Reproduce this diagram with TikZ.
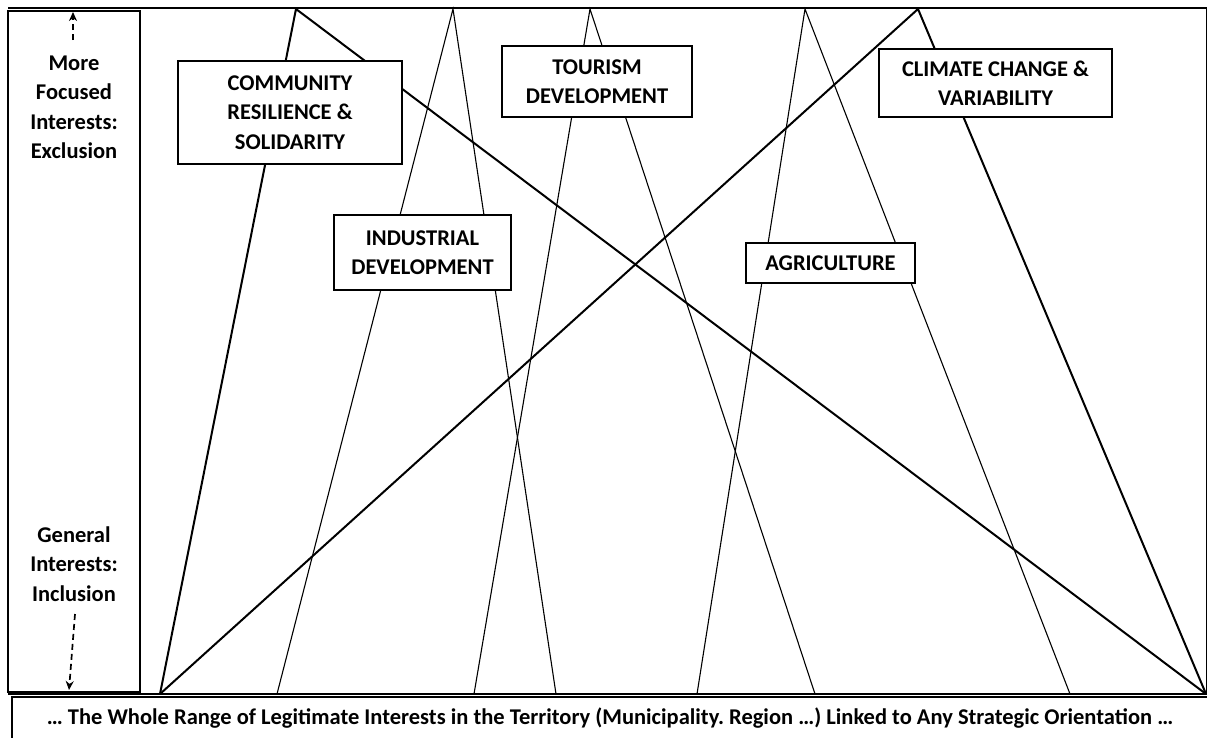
\documentclass[tikz,border=0pt]{standalone}
\usepackage{fontspec}
\setmainfont{Carlito}
\usetikzlibrary{arrows.meta}
\frenchspacing
\begin{document}
\begin{tikzpicture}[x=1pt,y=-1pt,
  thickline/.style={line width=2pt, line cap=round},
  thinline/.style={line width=1.1pt},
  frameline/.style={line width=1.4pt},
  lbl/.style={draw, line width=1.3pt, fill=white, inner sep=0pt, align=center,
    font=\bfseries\fontsize{22.5}{29.5}\selectfont},
  sidetxt/.style={inner sep=0pt, align=center, font=\bfseries\fontsize{22.5}{29.5}\selectfont},
  dasharrow/.style={line width=1.7pt, dash pattern=on 6pt off 4pt, -{Stealth[length=9pt,width=8pt]}}
]
\useasboundingbox (0,0) rectangle (1207,737);
% frame
\draw[frameline] (8,8) -- (1207,8) -- (1207,694) -- (8,694);
\draw[frameline, fill=white] (8,11) rectangle (140,692);
\draw[frameline] (12,745) -- (12,697) -- (1210,697);
% apexes and bases
\coordinate (a1) at (296,9);
\coordinate (a2) at (453,9);
\coordinate (a3) at (590,9);
\coordinate (a4) at (805,9);
\coordinate (a5) at (918,9);
\coordinate (b1) at (160,694);
\coordinate (b2) at (277,694);
\coordinate (b3) at (474,694);
\coordinate (b4) at (556,694);
\coordinate (b5) at (697,694);
\coordinate (b6) at (815,694);
\coordinate (b7) at (1070,694);
\coordinate (b8) at (1206,694);
% lines
\draw[thickline] (b1) -- (a1) -- (b8);
\draw[thinline] (b2) -- (a2) -- (b4);
\draw[thinline] (b3) -- (a3) -- (b6);
\draw[thinline] (b5) -- (a4) -- (b7);
\draw[thickline] (b1) -- (a5) -- (b8);
% boxes
\node[lbl, minimum width=224pt, minimum height=103pt] (comm) at (290,112.5) {COMMUNITY\\RESILIENCE \&\\SOLIDARITY};
\node[lbl, minimum width=190pt, minimum height=71pt] (tour) at (597,81.5) {TOURISM\\DEVELOPMENT};
\node[lbl, minimum width=233pt, minimum height=68pt] (clim) at (995.5,83) {CLIMATE CHANGE \&\\VARIABILITY};
\node[lbl, minimum width=177pt, minimum height=75pt] (ind) at (422.5,252.5) {INDUSTRIAL\\DEVELOPMENT};
\node[lbl, minimum width=169pt, minimum height=40pt] (agr) at (830.5,263) {AGRICULTURE};
% side texts
\node[sidetxt] (more) at (74,107.5) {More\\Focused\\Interests:\\Exclusion};
\node[sidetxt] (gen) at (74,564) {General\\Interests:\\Inclusion};
\coordinate (upstart) at (73,40);
\coordinate (up) at (73,12);
\coordinate (downstart) at (75,614);
\coordinate (down) at (69,690);
\draw[dasharrow] (upstart) -- (up);
\draw[dasharrow] (downstart) -- (down);
% bottom text
\node[sidetxt] (bottom) at (610,718) {… The Whole Range of Legitimate Interests in the Territory (Municipality. Region …) Linked to Any Strategic Orientation …};
\end{tikzpicture}
\end{document}
